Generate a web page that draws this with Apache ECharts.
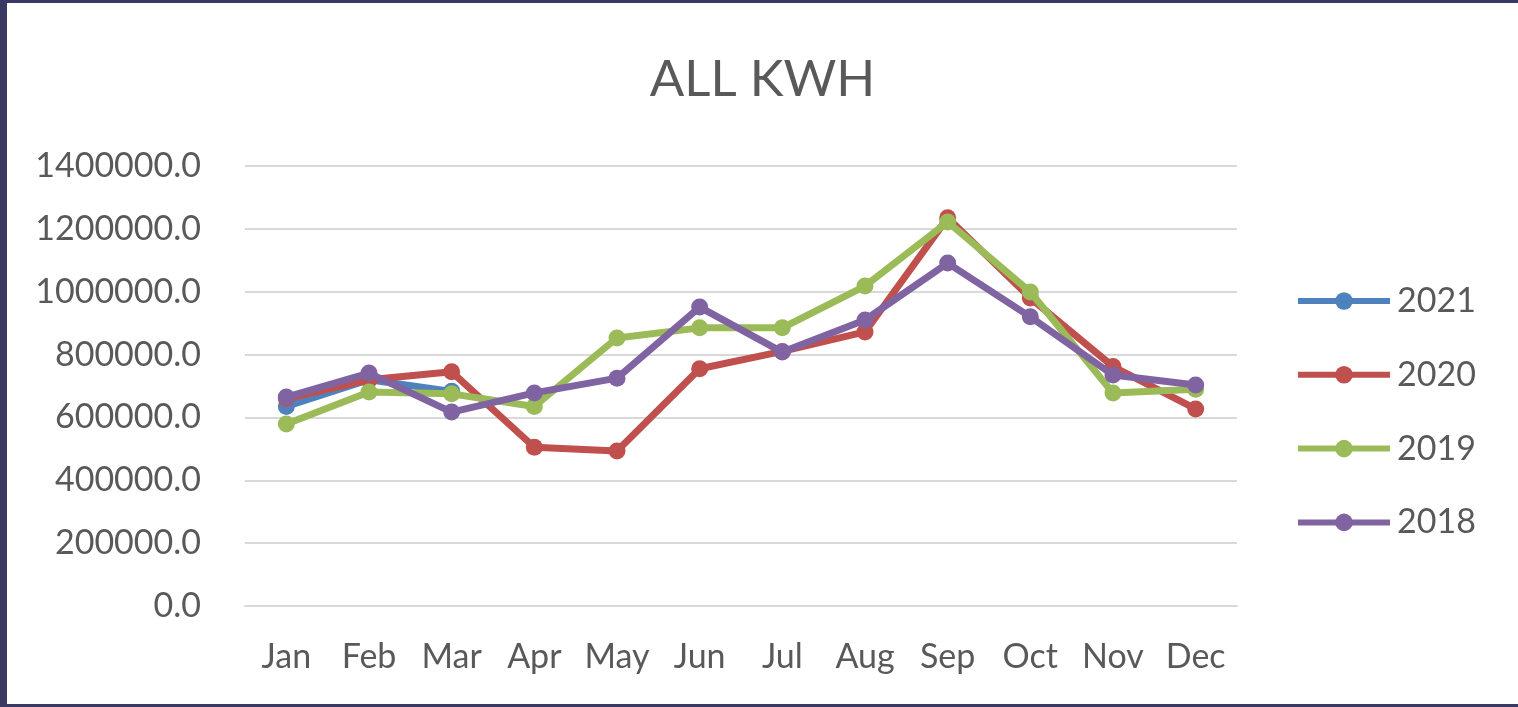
<!DOCTYPE html>
<html>
<head>
<meta charset="utf-8">
<script src="https://cdn.jsdelivr.net/npm/echarts@6/dist/echarts.min.js"></script>
<style>
  html, body { margin: 0; padding: 0; background: #393964; width: 1518px; height: 707px; overflow: hidden; }
  #chart { position: absolute; left: 7px; top: 3px; width: 1511px; height: 701px; background: #ffffff; }
</style>
</head>
<body>
<div id="chart"></div>
<script>
const categories = ['Jan','Feb','Mar','Apr','May','Jun','Jul','Aug','Sep','Oct','Nov','Dec'];
const yTicks = { min: 0, max: 1400000, interval: 200000 };
const s2021 = [635000, 720000, 683000, null, null, null, null, null, null, null, null, null];
const s2020 = [660000, 720000, 745000, 505000, 493000, 755000, 810000, 872000, 1235000, 980000, 762000, 627000];
const s2019 = [579000, 681000, 675000, 635000, 853000, 885000, 885000, 1018000, 1222000, 999000, 678000, 690000];
const s2018 = [665000, 741000, 617000, 678000, 725000, 951000, 808000, 910000, 1091000, 920000, 735000, 703000];
const seriesNames = ['2021', '2020', '2019', '2018'];
const colors = ['#4F81BD', '#C0504D', '#9BBB59', '#8064A2'];

const FONT = 'Lato';
const TXT = '#595959';

const chart = echarts.init(document.getElementById('chart'), null, { renderer: 'canvas' });
const dataSets = [s2021, s2020, s2019, s2018];
chart.setOption({
  animation: false,
  title: {
    text: 'ALL KWH',
    left: 'center',
    top: 46,
    textStyle: { fontFamily: FONT, fontSize: 51, fontWeight: 'normal', color: TXT }
  },
  legend: {
    orient: 'vertical',
    left: 1283,
    top: 276,
    itemWidth: 92,
    itemHeight: 22,
    itemGap: 39.8,
    lineStyle: { width: 6 },
    textStyle: { fontFamily: FONT, fontSize: 34, color: TXT, padding: [0, 0, 0, 2] },
    data: seriesNames
  },
  grid: { left: 238, right: 281, top: 163, bottom: 98, containLabel: false },
  xAxis: {
    type: 'category',
    data: categories,
    boundaryGap: true,
    axisLine: { lineStyle: { color: '#D9D9D9', width: 2 } },
    axisTick: { show: false },
    axisLabel: { fontFamily: FONT, fontSize: 34, color: TXT, margin: 34, interval: 0 }
  },
  yAxis: {
    type: 'value',
    min: yTicks.min,
    max: yTicks.max,
    interval: yTicks.interval,
    axisLine: { show: false },
    axisTick: { show: false },
    splitLine: { lineStyle: { color: '#D9D9D9', width: 2 } },
    axisLabel: { fontFamily: FONT, fontSize: 34, color: TXT, margin: 44, formatter: v => v.toFixed(1) }
  },
  series: dataSets.map((d, i) => ({
    name: seriesNames[i],
    type: 'line',
    data: d,
    symbol: 'circle',
    symbolSize: 17,
    showAllSymbol: true,
    connectNulls: false,
    lineStyle: { width: 7, color: colors[i] },
    itemStyle: { color: colors[i] },
    z: 2 + i
  }))
});
</script>
</body>
</html>
